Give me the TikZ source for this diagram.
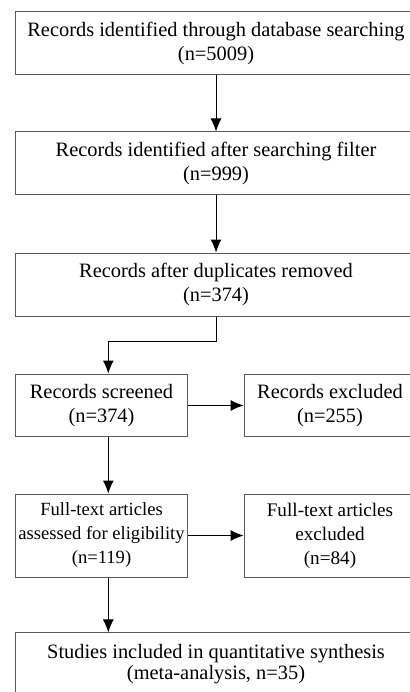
\documentclass[tikz,border=0pt]{standalone}
\usepackage{fontspec}
\setmainfont{Liberation Serif}
\usetikzlibrary{arrows.meta}

\begin{document}
\begin{tikzpicture}[>={Latex[length=6.5pt,width=5.5pt]},
  widebox/.style={draw=black!65,line width=0.5pt,minimum width=7.05cm,minimum height=1.107cm,align=center,font=\fontsize{10.2}{12.2}\selectfont,inner sep=1pt},
  sidebox/.style={draw=black!65,line width=0.5pt,minimum width=3.02cm,minimum height=1.107cm,align=center,font=\fontsize{10.2}{12.2}\selectfont,inner sep=1pt},
  flow/.style={->,line width=0.5pt,black}]
\useasboundingbox (0,0) rectangle (7.205,-12.161);
\clip (0,0) rectangle (7.205,-12.161);
% main column
\node[widebox] (ident) at (3.796,-0.764) {Records identified through database searching\\(n=5009)};
\node[widebox] (filt) at (3.796,-2.873) {Records identified after searching filter\\(n=999)};
\node[widebox] (dedup) at (3.796,-5.0) {Records after duplicates removed\\(n=374)};
\node[sidebox] (screen) at (1.784,-7.126) {Records screened\\(n=374)};
\node[sidebox] (recexcl) at (5.799,-7.126) {Records excluded\\(n=255)};
\node[sidebox,minimum height=1.459cm,font=\fontsize{9.3}{12}\selectfont] (full) at (1.784,-9.411) {Full-text articles\\assessed for eligibility\\(n=119)};
\node[sidebox,minimum height=1.459cm,font=\fontsize{9.6}{12}\selectfont] (fullexcl) at (5.799,-9.411) {Full-text articles\\excluded\\(n=84)};
\node[widebox,font=\fontsize{10.2}{10.5}\selectfont] (incl) at (3.796,-11.677) {Studies included in quantitative synthesis\\(meta-analysis, n=35)};
% connectors
\coordinate (bend) at (1.903,-5.993);
\draw[flow] (ident.south)--(filt.north);
\draw[flow] (filt.south)--(dedup.north);
\draw[flow] (dedup.south) |- (bend) -- (screen.north -| bend);
\draw[flow] (screen.east)--(recexcl.west);
\draw[flow] (screen.south -| bend)--(full.north -| bend);
\draw[flow] (full.east)--(fullexcl.west);
\draw[flow] (full.south -| bend)--(incl.north -| bend);
\end{tikzpicture}
\end{document}
